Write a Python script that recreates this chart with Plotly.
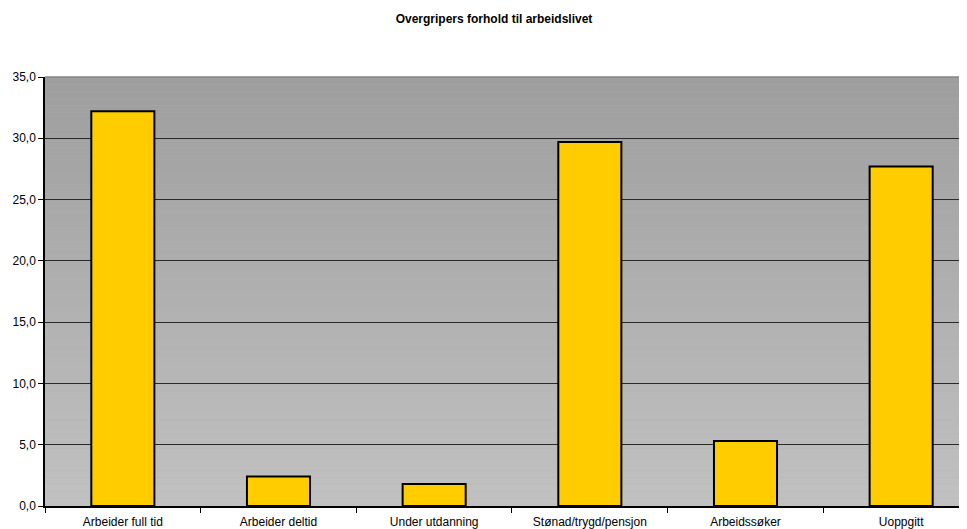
import plotly.graph_objects as go

categories = ["Arbeider full tid", "Arbeider deltid", "Under utdanning",
              "Stønad/trygd/pensjon", "Arbeidssøker", "Uoppgitt"]
values = [32.2, 2.4, 1.8, 29.7, 5.3, 27.7]
title_text = "Overgripers forhold til arbeidslivet"

FONT = "Liberation Sans, Arial, sans-serif"

fig = go.Figure()
fig.add_trace(go.Bar(
    x=categories, y=values,
    marker=dict(color="#FFCC00", line=dict(color="#000000", width=2)),
    width=0.405,
    hoverinfo="x+y",
))

# gradient background bands
n = 60
top = (158, 158, 158)
bot = (193, 193, 193)
shapes = []
for i in range(n):
    t = (i + 0.5) / n
    c = tuple(round(bot[k] + (top[k] - bot[k]) * t) for k in range(3))
    shapes.append(dict(type="rect", xref="x domain", yref="y domain",
                       x0=0, x1=1, y0=i / n, y1=(i + 1) / n,
                       fillcolor="rgb(%d,%d,%d)" % c, line=dict(width=0),
                       layer="below"))
shapes.append(dict(type="line", xref="x domain", yref="y domain",
                   x0=0, x1=1, y0=1, y1=1,
                   line=dict(color="#858585", width=1.5), layer="above"))

W, H = 959, 521
fig.update_layout(
    width=W, height=H,
    margin=dict(l=37, r=0, t=69, b=23, autoexpand=False),
    paper_bgcolor="white",
    plot_bgcolor="#b0b0b0",
    separators=",.",
    showlegend=False,
    shapes=shapes,
    font=dict(family=FONT, size=12, color="#000000"),
    title=dict(text="<b>" + title_text + "</b>", x=486 / W, xanchor="center",
               y=1 - 11 / H, yanchor="middle",
               font=dict(family=FONT, size=12, color="#000000")),
    xaxis=dict(
        range=[-0.5, 5.423],
        showline=True, linecolor="#000000", linewidth=1.5,
        ticks="outside", tickson="boundaries", ticklen=5,
        tickcolor="#000000", tickwidth=1, ticklabelstandoff=4,
        showgrid=False, fixedrange=True,
        tickfont=dict(family=FONT, size=12, color="#000000"),
    ),
    yaxis=dict(
        range=[0, 35], dtick=5, tick0=0, tickformat=".1f",
        showline=True, linecolor="#000000", linewidth=1.5,
        ticks="outside", ticklen=5, tickcolor="#000000", tickwidth=1,
        showgrid=True, gridcolor="#2a2a2a", gridwidth=1,
        zeroline=False, fixedrange=True,
        tickfont=dict(family=FONT, size=12, color="#000000"),
    ),
)

fig.write_html("out.html", config={"displayModeBar": False})
